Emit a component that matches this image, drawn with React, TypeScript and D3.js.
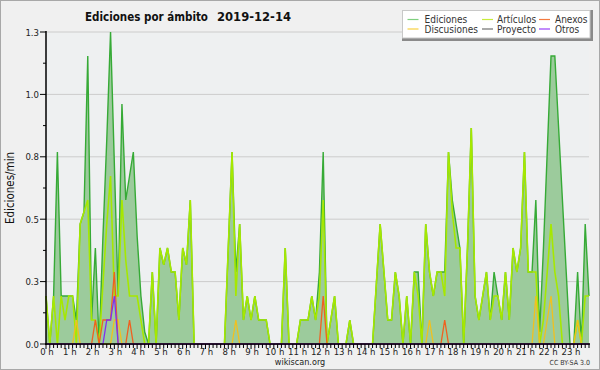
import React from 'react';
import * as d3 from 'd3';

// one value every 10 minutes, edits per minute (rows = hours 0..23)
const ediciones = [
  0.2, 0, 0.2, 0.8, 0.2, 0.2,
  0.2, 0.2, 0.1, 0.5, 0.55, 1.2,
  0.1, 0.4, 0, 0.45, 0.85, 1.3,
  0.75, 0.2, 1.0, 0.6, 0.7, 0.8,
  0.45, 0.2, 0.05, 0, 0.3, 0,
  0.4, 0.33, 0.4, 0.3, 0.3, 0.1,
  0.4, 0.33, 0.6, 0, 0, 0,
  0, 0, 0, 0, 0, 0,
  0.4, 0.8, 0.3, 0.5, 0.1, 0.2,
  0.1, 0.2, 0.1, 0.1, 0.1, 0,
  0, 0, 0, 0.4, 0, 0,
  0, 0.1, 0.1, 0.1, 0.2, 0.1,
  0.3, 0.8, 0, 0.1, 0.2, 0,
  0, 0, 0.1, 0, 0, 0,
  0, 0, 0, 0.25, 0.5, 0.3,
  0.1, 0.1, 0.3, 0.2, 0, 0.2,
  0, 0.3, 0.3, 0, 0.5, 0.3,
  0.2, 0.3, 0.3, 0.3, 0.8, 0.6,
  0.5, 0.4, 0, 0.4, 0.9, 0.2,
  0.1, 0.2, 0.3, 0.1, 0.3, 0.2,
  0.1, 0.3, 0.1, 0.4, 0.3, 0.4,
  0.8, 0.3, 0.3, 0.6, 0.05, 0.4,
  0.8, 1.2, 1.2, 0.9, 0.6, 0.3,
  0, 0, 0.3, 0, 0.5, 0.2,
];

const articulos = [
  0.2, 0, 0.2, 0, 0.2, 0.1,
  0.2, 0.2, 0, 0.5, 0.55, 0.6,
  0.1, 0.1, 0, 0.25, 0.5, 0.7,
  0.2, 0.2, 0.6, 0.35, 0.2, 0.2,
  0.2, 0.1, 0, 0, 0.3, 0,
  0.4, 0.33, 0.4, 0.3, 0.3, 0.1,
  0.4, 0.33, 0.6, 0, 0, 0,
  0, 0, 0, 0, 0, 0,
  0.4, 0.8, 0.2, 0.5, 0.1, 0.2,
  0.1, 0.2, 0.1, 0.1, 0.1, 0,
  0, 0, 0, 0.4, 0, 0,
  0, 0.1, 0.1, 0.1, 0.2, 0.1,
  0.2, 0.6, 0, 0.1, 0.2, 0,
  0, 0, 0.1, 0, 0, 0,
  0, 0, 0, 0.25, 0.5, 0.3,
  0.1, 0.1, 0.3, 0.2, 0, 0.2,
  0, 0.3, 0.2, 0, 0.5, 0.3,
  0.2, 0.3, 0.3, 0.2, 0.8, 0.55,
  0.4, 0.4, 0, 0.4, 0.9, 0.2,
  0.1, 0.2, 0.3, 0.1, 0.2, 0.2,
  0.1, 0.3, 0.1, 0.4, 0.3, 0.4,
  0.8, 0.3, 0.3, 0.3, 0, 0.1,
  0.3, 0.5, 0.3, 0.2, 0, 0,
  0, 0, 0.1, 0, 0.2, 0.2,
];

const anexos = [
  0, 0, 0, 0, 0, 0,
  0, 0, 0, 0, 0, 0,
  0, 0.1, 0, 0.1, 0.1, 0.1,
  0.3, 0, 0, 0, 0.1, 0,
  0, 0, 0, 0, 0, 0,
  0, 0, 0, 0, 0, 0,
  0, 0, 0, 0, 0, 0,
  0, 0, 0, 0, 0, 0,
  0, 0, 0, 0, 0, 0,
  0, 0, 0, 0, 0, 0,
  0, 0, 0, 0, 0, 0,
  0, 0, 0, 0, 0, 0,
  0, 0.2, 0, 0, 0, 0,
  0, 0, 0, 0, 0, 0,
  0, 0, 0, 0, 0, 0,
  0, 0, 0, 0, 0, 0,
  0, 0, 0, 0, 0, 0,
  0, 0, 0, 0.1, 0, 0,
  0, 0, 0, 0, 0, 0,
  0, 0, 0, 0, 0, 0,
  0, 0, 0, 0, 0, 0,
  0, 0, 0, 0, 0, 0,
  0, 0, 0, 0, 0, 0,
  0, 0, 0, 0, 0, 0,
];

const discusiones = [
  0, 0, 0, 0, 0, 0,
  0, 0, 0.1, 0, 0, 0,
  0, 0, 0, 0, 0, 0,
  0.1, 0.1, 0, 0, 0, 0,
  0, 0, 0, 0, 0, 0,
  0, 0, 0, 0, 0, 0,
  0, 0, 0, 0, 0, 0,
  0, 0, 0, 0, 0, 0,
  0, 0, 0.1, 0, 0, 0,
  0, 0, 0, 0, 0, 0,
  0, 0, 0, 0, 0, 0,
  0, 0, 0, 0, 0, 0,
  0, 0, 0, 0, 0, 0,
  0, 0, 0, 0, 0, 0,
  0, 0, 0, 0, 0, 0,
  0, 0, 0, 0, 0, 0,
  0, 0, 0, 0, 0, 0.1,
  0, 0, 0, 0, 0, 0,
  0, 0, 0, 0, 0, 0,
  0, 0, 0, 0, 0, 0,
  0, 0, 0, 0, 0, 0,
  0, 0, 0, 0.2, 0, 0,
  0.1, 0.2, 0, 0, 0, 0,
  0, 0, 0.1, 0, 0, 0,
];

const proyecto = [
  0, 0, 0, 0, 0, 0, 0, 0, 0, 0, 0, 0,
  0, 0, 0, 0, 0, 0, 0, 0, 0, 0, 0, 0,
  0, 0, 0, 0, 0, 0, 0, 0, 0, 0, 0, 0,
  0, 0, 0, 0, 0, 0, 0, 0, 0, 0, 0, 0,
  0, 0, 0, 0, 0, 0, 0, 0, 0, 0, 0, 0,
  0, 0, 0, 0, 0, 0, 0, 0, 0, 0, 0, 0,
  0, 0, 0, 0, 0, 0, 0, 0, 0, 0, 0, 0,
  0, 0, 0, 0, 0, 0, 0, 0, 0, 0, 0, 0,
  0, 0, 0, 0, 0, 0, 0, 0, 0, 0, 0, 0,
  0, 0, 0, 0, 0, 0, 0, 0, 0, 0, 0, 0,
  0, 0, 0, 0, 0, 0, 0, 0, 0, 0, 0, 0,
  0, 0, 0, 0, 0, 0, 0, 0, 0, 0, 0, 0,
];

const otros = [
  0, 0, 0, 0, 0, 0,
  0, 0, 0, 0, 0, 0,
  0, 0, 0, 0, 0.1, 0.1,
  0.2, 0, 0, 0, 0, 0,
  0, 0, 0, 0, 0, 0,
  0, 0, 0, 0, 0, 0,
  0, 0, 0, 0, 0, 0,
  0, 0, 0, 0, 0, 0,
  0, 0, 0, 0, 0, 0,
  0, 0, 0, 0, 0, 0,
  0, 0, 0, 0, 0, 0,
  0, 0, 0, 0, 0, 0,
  0, 0, 0, 0, 0, 0,
  0, 0, 0, 0, 0, 0,
  0, 0, 0, 0, 0, 0,
  0, 0, 0, 0, 0, 0,
  0, 0, 0, 0, 0, 0,
  0, 0, 0, 0, 0, 0,
  0, 0, 0, 0, 0, 0,
  0, 0, 0, 0, 0, 0,
  0, 0, 0, 0, 0, 0,
  0, 0, 0, 0, 0, 0,
  0, 0, 0, 0, 0, 0,
  0, 0, 0, 0, 0, 0,
];

const hourLabels = [
  '0 h', '1 h', '2 h', '3 h', '4 h', '5 h', '6 h', '7 h', '8 h', '9 h', '10 h', '11 h',
  '12 h', '13 h', '14 h', '15 h', '16 h', '17 h', '18 h', '19 h', '20 h', '21 h', '22 h', '23 h',
];
const yTicks = [0, 0.26, 0.52, 0.78, 1.04, 1.3];
const yTickLabels = ['0.0', '0.3', '0.5', '0.8', '1.0', '1.3'];

const legendItems = [
  { name: 'Ediciones', color: '#7fcf7f' },
  { name: 'Artículos', color: '#c8ec3c' },
  { name: 'Anexos', color: '#f47a40' },
  { name: 'Discusiones', color: '#f8d040' },
  { name: 'Proyecto', color: '#707070' },
  { name: 'Otros', color: '#9a40f8' },
];

const FONT = "'DejaVu Sans Condensed', 'DejaVu Sans', sans-serif";

const App = () => {
  const width = 600;
  const height = 370;

  const x = d3.scaleLinear().domain([0, 1430]).range([46, 589]);
  const y = d3.scaleLinear().domain([0, 1.3]).range([344, 32]);

  const line = d3.line<number>()
    .x((_, i) => x(i * 10))
    .y(d => y(d));
  const area = d3.area<number>()
    .x((_, i) => x(i * 10))
    .y0(y(0))
    .y1(d => y(d));

  const series = [
    { data: proyecto, color: '#606060', w: 1.2 },
    { data: discusiones, color: '#f0c020', w: 1.3 },
    { data: anexos, color: '#f06020', w: 1.3 },
    { data: otros, color: '#8030f0', w: 1.3 },
  ];

  const minorY = yTicks.slice(1).map((t, i) => (t + yTicks[i]) / 2);
  const tenMin = d3.range(0, 1431, 10);

  return (
    <svg width={width} height={height} style={{ position: 'absolute', left: 0, top: 0 }}
      fontFamily={FONT} fontStretch="condensed">
      <rect x={0.5} y={0.5} width={width - 1} height={height - 1} fill="#f0f0f0" stroke="#a8a8a8" />
      <rect x={46} y={32} width={543} height={312} fill="#eef0f1" />

      {yTicks.slice(1).map(t => (
        <line key={t} x1={46} x2={589} y1={y(t)} y2={y(t)} stroke="#cccccc" strokeWidth={1} />
      ))}

      <path d={area(ediciones) || ''} fill="#9ccb9c" />
      <path d={line(ediciones) || ''} fill="none" stroke="#36aa36" strokeWidth={1.4} />
      <path d={line(articulos) || ''} fill="none" stroke="#a6e800" strokeWidth={1.6} />
      {series.map((s, k) => (
        <path key={k} d={line(s.data) || ''} fill="none" stroke={s.color} strokeWidth={s.w} />
      ))}

      {/* y axis */}
      <line x1={46} x2={46} y1={31} y2={345} stroke="#000" strokeWidth={1.5} />
      {yTicks.map((t, i) => (
        <g key={t}>
          <line x1={40} x2={46} y1={y(t)} y2={y(t)} stroke="#000" strokeWidth={1} />
          <text x={39} y={y(t) + 3.5} textAnchor="end" fontSize={9.5} fill="#222">{yTickLabels[i]}</text>
        </g>
      ))}
      {minorY.map(t => (
        <line key={t} x1={43} x2={46} y1={y(t)} y2={y(t)} stroke="#000" strokeWidth={1} />
      ))}
      <text transform="translate(14,188) rotate(-90)" textAnchor="middle" fontSize={11.5} fill="#111">Ediciones/min</text>

      {/* x axis */}
      <line x1={45} x2={590} y1={344} y2={344} stroke="#000" strokeWidth={1.6} />
      {tenMin.map(m => (
        <line key={m} x1={x(m)} x2={x(m)} y1={344} y2={m % 60 === 0 ? 349 : 348} stroke="#000" strokeWidth={1} />
      ))}
      {hourLabels.map((h, i) => (
        <text key={h} x={x(i * 60) + 1} y={354.5} textAnchor="middle" fontSize={9.5} fill="#222">{h}</text>
      ))}
      <text x={300} y={364.5} textAnchor="middle" fontSize={9} fill="#222">wikiscan.org</text>
      <text x={590} y={365} textAnchor="end" fontSize={7} fill="#333">CC BY-SA 3.0</text>

      {/* title */}
      <text x={85} y={20.5} fontSize={13} fontWeight="bold" fill="#111" textLength={123} lengthAdjust="spacingAndGlyphs">Ediciones por ámbito</text>
      <text x={217} y={20.5} fontSize={13} fontWeight="bold" fill="#111" textLength={74} lengthAdjust="spacingAndGlyphs">2019-12-14</text>

      {/* legend */}
      <rect x={402} y={10} width={191} height={31} fill="#8a8a8a" />
      <rect x={402.5} y={10.5} width={187.5} height={27.5} fill="#ffffff" stroke="#c8c8c8" />
      {legendItems.map((it, i) => {
        const col = i % 3;
        const row = Math.floor(i / 3);
        const lx = [407.5, 482, 539][col];
        const tx = [424.5, 497, 555][col];
        const ly = row === 0 ? 19.5 : 29;
        return (
          <g key={it.name}>
            <line x1={lx} x2={lx + 11} y1={ly} y2={ly} stroke={it.color} strokeWidth={1.2} />
            <text x={tx} y={ly + 3.5} fontSize={10} fill="#333">{it.name}</text>
          </g>
        );
      })}
    </svg>
  );
};

export default App;
